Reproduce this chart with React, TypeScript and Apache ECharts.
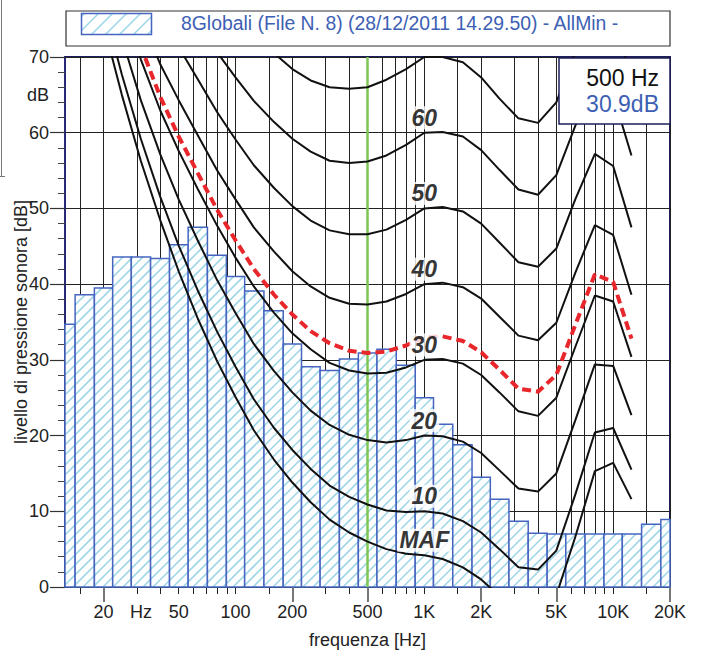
import React, { useEffect, useRef } from 'react';
import * as echarts from 'echarts';

// ---------- data ----------
const bandCenters = [12.5, 16, 20, 25, 31.5, 40, 50, 63, 80, 100, 125, 160, 200, 250, 315, 400, 500, 630, 800, 1000, 1250, 1600, 2000, 2500, 3150, 4000, 5000, 6300, 8000, 10000, 12500, 16000, 20000];
const bandLevels = [34.7, 38.6, 39.5, 43.6, 43.6, 43.4, 45.2, 47.5, 43.8, 41.0, 39.1, 36.5, 32.1, 29.1, 28.6, 30.1, 30.9, 31.4, 29.3, 25.0, 21.5, 18.8, 14.5, 11.6, 8.7, 7.1, 7.0, 7.0, 7.0, 7.0, 7.0, 8.3, 8.9];

const contourFreqs = [20, 25, 31.5, 40, 50, 63, 80, 100, 125, 160, 200, 250, 315, 400, 500, 630, 800, 1000, 1250, 1600, 2000, 2500, 3150, 4000, 5000, 6300, 8000, 10000, 12500];
const mafCurve = [74.3, 65.0, 56.3, 48.4, 41.7, 35.5, 29.8, 25.1, 20.7, 16.8, 13.8, 11.2, 8.9, 7.2, 6.0, 5.0, 4.4, 4.2, 3.7, 2.6, 1.0, -1.2, -3.6, -3.9, -1.1, 6.6, 15.3, 16.4, 11.6];
const phon10 = [76.8, 67.7, 59.2, 51.5, 45.1, 39.2, 33.7, 29.1, 24.8, 21.0, 18.1, 15.6, 13.4, 11.9, 10.9, 10.1, 9.9, 10.0, 9.7, 8.7, 7.2, 5.0, 2.6, 2.3, 4.8, 12.2, 20.4, 21.0, 15.5];
const phon20 = [81.3, 72.5, 64.3, 57.1, 51.2, 45.8, 40.5, 36.2, 32.1, 28.5, 25.7, 23.3, 21.4, 20.1, 19.4, 19.1, 19.4, 20.0, 19.9, 19.2, 17.7, 15.4, 13.0, 12.6, 15.0, 22.0, 29.4, 29.2, 22.7];
const phon30 = [86.0, 77.6, 69.7, 62.9, 57.6, 52.6, 47.7, 43.5, 39.7, 36.2, 33.5, 31.4, 29.6, 28.6, 28.2, 28.3, 29.0, 30.0, 30.1, 29.5, 28.0, 25.7, 23.2, 22.6, 25.0, 31.7, 38.5, 37.7, 30.4];
const phon40 = [91.0, 82.9, 75.4, 69.0, 64.3, 59.7, 55.0, 51.2, 47.5, 44.3, 41.7, 39.7, 38.2, 37.4, 37.3, 37.7, 38.7, 40.0, 40.2, 39.6, 38.1, 35.7, 33.2, 32.6, 34.9, 41.5, 47.8, 46.5, 38.6];
const phon50 = [96.2, 88.5, 81.3, 75.4, 71.3, 67.1, 62.7, 59.1, 55.7, 52.7, 50.3, 48.4, 47.1, 46.6, 46.6, 47.2, 48.5, 50.0, 50.2, 49.6, 48.0, 45.5, 42.9, 42.3, 44.7, 51.2, 57.2, 55.6, 47.5];
const phon60 = [101.7, 94.4, 87.6, 82.1, 78.6, 74.8, 70.6, 67.3, 64.2, 61.4, 59.2, 57.5, 56.3, 56.0, 56.2, 57.0, 58.4, 60.0, 60.1, 59.5, 57.7, 55.1, 52.5, 51.8, 54.4, 60.9, 66.7, 65.0, 57.0];
const phon70 = [107.6, 100.7, 94.3, 89.2, 86.4, 82.8, 78.8, 75.8, 73.0, 70.5, 68.4, 66.9, 66.0, 65.8, 66.0, 67.0, 68.4, 70.0, 70.0, 69.3, 67.3, 64.5, 61.9, 61.3, 64.0, 70.7, 76.4, 74.8, 67.4];
const measuredContour = [87.5, 79.1, 71.4, 64.7, 59.5, 54.7, 49.8, 45.8, 42.0, 38.6, 36.0, 33.8, 32.2, 31.2, 30.9, 31.1, 31.9, 33.0, 33.1, 32.5, 31.0, 28.7, 26.2, 25.8, 28.0, 34.6, 41.3, 40.3, 32.8];

const contourLabels = ['MAF', '10', '20', '30', '40', '50', '60'];
const labelFreq = 1000;

const gridFreqs = [15, 20, 30, 40, 50, 60, 70, 80, 90, 100, 150, 200, 300, 400, 500, 600, 700, 800, 900, 1000, 1500, 2000, 3000, 4000, 5000, 6000, 7000, 8000, 9000, 10000, 15000, 20000];
const longTickFreqs = [20, 200, 500, 2000, 5000, 20000];
const xLabelValues = [20, 31.62, 50, 100, 200, 500, 1000, 2000, 5000, 10000, 20000];
const xLabelTexts = ['20', 'Hz', '50', '100', '200', '500', '1K', '2K', '5K', '10K', '20K'];
const yLabelValues = [0, 10, 20, 30, 40, 50, 60, 65, 70];

const cursorFreq = 500;
const legendText = '8Globali (File N. 8) (28/12/2011 14.29.50) - AllMin -';

// ---------- styles ----------
const FONT = '"Liberation Sans", Arial, Helvetica, sans-serif';
const HATCH = '#9fd6e7';
const BAR_EDGE = '#4565c0';
const NAVY = '#1e1e5c';
const TEXT_BLUE = '#3d5fb4';

function hatchLines(x0: number, y0: number, x1: number, y1: number, period: number, style: any) {
  const out: any[] = [];
  const kStart = Math.ceil((x0 + y0) / period);
  const kEnd = Math.floor((x1 + y1) / period);
  for (let k = kStart; k <= kEnd; k++) {
    const c = k * period;
    const xa = Math.max(x0, c - y1);
    const xb = Math.min(x1, c - y0);
    if (xb > xa) {
      out.push({ type: 'line', shape: { x1: xa, y1: c - xa, x2: xb, y2: c - xb }, style });
    }
  }
  return out;
}

function bandEdges(i: number) {
  const c = bandCenters[i];
  const lo = i > 0 ? Math.sqrt(bandCenters[i - 1] * c) : c / Math.pow(2, 1 / 6);
  const hi = i < bandCenters.length - 1 ? Math.sqrt(c * bandCenters[i + 1]) : c * Math.pow(2, 1 / 6);
  return [lo, hi];
}

function buildOption() {
  const barData = bandCenters.map((c, i) => {
    const [lo, hi] = bandEdges(i);
    return [lo, hi, bandLevels[i]];
  });
  const contours = [mafCurve, phon10, phon20, phon30, phon40, phon50, phon60, phon70];
  const labelIdx = contourFreqs.indexOf(labelFreq);
  const cursorLevel = bandLevels[bandCenters.indexOf(cursorFreq)];

  const xFormatter = (v: number) => {
    let best = 0;
    let bd = Infinity;
    xLabelValues.forEach((lv, i) => {
      const d = Math.abs(Math.log(v / lv));
      if (d < bd) { bd = d; best = i; }
    });
    return xLabelTexts[best];
  };

  const series: any[] = [];
  series.push({
    type: 'custom',
    z: 2,
    silent: true,
    encode: { x: [0, 1], y: 2 },
    data: barData,
    renderItem: (params: any, api: any) => {
      const lo = api.value(0);
      const hi = api.value(1);
      const v = api.value(2);
      const tl = api.coord([lo, v]);
      const br = api.coord([hi, 0]);
      const cs = params.coordSys;
      const r = echarts.graphic.clipRectByRect(
        { x: tl[0], y: tl[1], width: br[0] - tl[0], height: br[1] - tl[1] },
        { x: cs.x, y: cs.y, width: cs.width, height: cs.height }
      );
      if (!r) return null;
      return {
        type: 'group',
        children: [
          { type: 'rect', shape: r, style: { fill: '#fff' } },
          ...hatchLines(r.x, r.y, r.x + r.width, r.y + r.height, 10, { stroke: HATCH, lineWidth: 1.6 }),
          { type: 'rect', shape: r, style: { fill: 'transparent', stroke: BAR_EDGE, lineWidth: 1.5 } },
        ],
      };
    },
  });
  series.push({
    type: 'line',
    z: 3,
    silent: true,
    symbol: 'none',
    data: [[cursorFreq, 0], [cursorFreq, 70]],
    lineStyle: { color: '#7dc655', width: 2.5 },
  });
  contours.forEach((arr) => {
    series.push({
      type: 'line',
      z: 4,
      silent: true,
      symbol: 'none',
      clip: true,
      data: contourFreqs.map((f, i) => [f, arr[i]]),
      lineStyle: { color: '#111', width: 2 },
    });
  });
  series.push({
    type: 'line',
    z: 5,
    silent: true,
    symbol: 'none',
    clip: true,
    data: contourFreqs.map((f, i) => [f, measuredContour[i]]),
    lineStyle: { color: '#e8262b', width: 4, type: [9, 5] },
  });
  series.push({
    type: 'scatter',
    z: 6,
    silent: true,
    symbolSize: 0,
    data: contourLabels.map((t, i) => ({
      value: [labelFreq, contours[i][labelIdx]],
      label: { formatter: t },
    })),
    label: {
      show: true,
      position: 'inside',
      offset: [0, -15],
      color: '#000',
      fontFamily: FONT,
      fontSize: 23,
      fontStyle: 'italic',
      fontWeight: 'bold',
      backgroundColor: '#fff',
      padding: [0, 2],
    },
  });

  const legendSwatch = { x: 81.5, y: 13.5, w: 70, h: 21 };
  const graphics: any[] = [
    { type: 'line', shape: { x1: 1.5, y1: 0, x2: 1.5, y2: 177 }, style: { stroke: '#777', lineWidth: 1 } },
    { type: 'line', shape: { x1: 0, y1: 176.5, x2: 5, y2: 176.5 }, style: { stroke: '#777', lineWidth: 1 } },
    { type: 'rect', shape: { x: 66, y: 11, width: 604, height: 35 }, style: { fill: '#fff', stroke: '#333', lineWidth: 1.2 } },
    { type: 'rect', shape: { x: legendSwatch.x, y: legendSwatch.y, width: legendSwatch.w, height: legendSwatch.h }, style: { fill: '#fff' } },
    ...hatchLines(legendSwatch.x, legendSwatch.y, legendSwatch.x + legendSwatch.w, legendSwatch.y + legendSwatch.h, 14, { stroke: HATCH, lineWidth: 1.6 }),
    { type: 'rect', shape: { x: legendSwatch.x, y: legendSwatch.y, width: legendSwatch.w, height: legendSwatch.h }, style: { fill: 'transparent', stroke: BAR_EDGE, lineWidth: 1.5 } },
    { type: 'text', x: 181, y: 23, style: { text: legendText, fill: TEXT_BLUE, fontSize: 19.4, fontFamily: FONT, align: 'left', verticalAlign: 'middle' } },
    { type: 'rect', z: 100, shape: { x: 559, y: 58, width: 111, height: 66 }, style: { fill: '#fff', stroke: NAVY, lineWidth: 1.5 } },
    { type: 'text', z: 101, x: 659, y: 78, style: { text: `${cursorFreq} Hz`, fill: '#111', fontSize: 23, fontFamily: FONT, align: 'right', verticalAlign: 'middle' } },
    { type: 'text', z: 101, x: 659, y: 104, style: { text: `${cursorLevel.toFixed(1)}dB`, fill: TEXT_BLUE, fontSize: 23, fontFamily: FONT, align: 'right', verticalAlign: 'middle' } },
  ];

  return {
    animation: false,
    backgroundColor: '#fff',
    grid: { left: 65, right: 36, top: 57, bottom: 64, show: true, borderColor: NAVY, borderWidth: 2, backgroundColor: '#fff', containLabel: false, outerBoundsMode: 'none' },
    xAxis: [
      {
        type: 'log',
        logBase: 10,
        min: 12.5,
        max: 20000,
        position: 'bottom',
        name: 'frequenza [Hz]',
        nameLocation: 'middle',
        nameGap: 44,
        nameMoveOverlap: false,
        nameTextStyle: { fontSize: 18, fontFamily: FONT, color: '#222' },
        axisLine: { show: true, lineStyle: { color: '#222', width: 1 } },
        axisTick: { show: true, customValues: gridFreqs, length: 7, lineStyle: { color: '#222', width: 1 } },
        axisLabel: { show: true, customValues: xLabelValues, formatter: xFormatter, margin: 16, fontSize: 18, fontFamily: FONT, color: '#222' },
        splitLine: { show: true, lineStyle: { color: '#222', width: 1 } },
        minorTick: { show: false },
        minorSplitLine: { show: false },
      },
      {
        type: 'log',
        logBase: 10,
        min: 12.5,
        max: 20000,
        position: 'bottom',
        axisLine: { show: false },
        axisTick: { show: true, customValues: longTickFreqs, length: 15, lineStyle: { color: '#777', width: 2 } },
        axisLabel: { show: false },
        splitLine: { show: false },
      },
    ],
    yAxis: {
      type: 'value',
      min: 0,
      max: 70,
      interval: 10,
      name: 'livello di pressione sonora [dB]',
      nameLocation: 'middle',
      nameGap: 35,
      nameMoveOverlap: false,
      nameTextStyle: { fontSize: 18, fontFamily: FONT, color: '#222' },
      axisLine: { show: true, lineStyle: { color: '#2c2c80', width: 1.5 } },
      axisTick: { show: true, length: 15, lineStyle: { color: '#333', width: 1.2 } },
      minorTick: { show: true, splitNumber: 5, length: 7, lineStyle: { color: '#444', width: 1 } },
      axisLabel: {
        show: true,
        customValues: yLabelValues,
        formatter: (v: number) => (v === 65 ? 'dB' : String(v)),
        margin: 16,
        fontSize: 18,
        fontFamily: FONT,
        color: '#222',
      },
      splitLine: { show: true, lineStyle: { color: '#222', width: 1 } },
    },
    series,
    graphic: graphics,
  };
}

export default function App() {
  const ref = useRef<HTMLDivElement>(null);
  useEffect(() => {
    if (!ref.current) return;
    const chart = echarts.init(ref.current, null, { renderer: 'svg' });
    chart.setOption(buildOption() as any);
    return () => chart.dispose();
  }, []);
  return <div ref={ref} style={{ position: 'absolute', left: 0, top: 0, width: 706, height: 651 }} />;
}
